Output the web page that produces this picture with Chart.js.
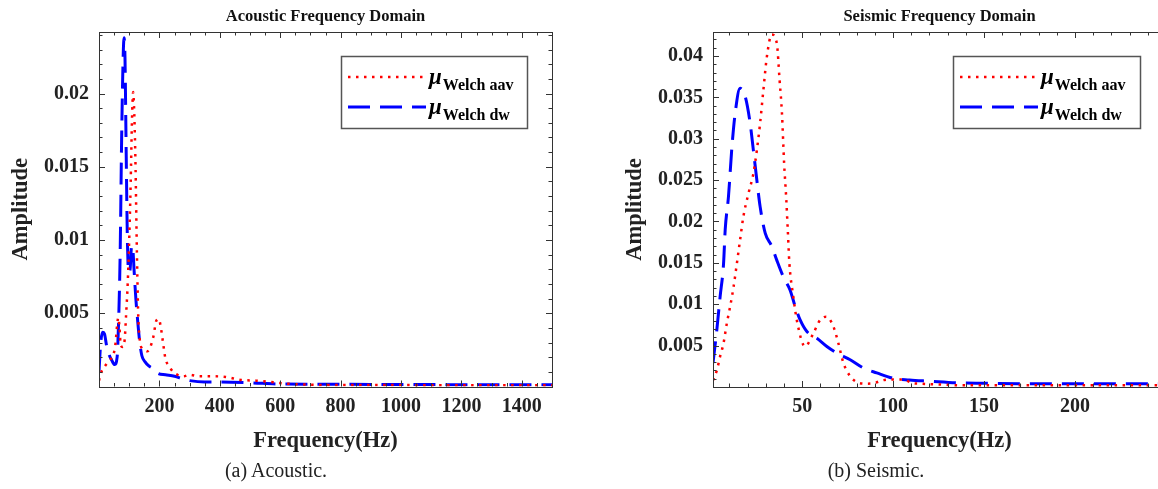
<!DOCTYPE html>
<html><head><meta charset="utf-8">
<script src="https://cdn.jsdelivr.net/npm/chart.js@4.4.1/dist/chart.umd.min.js"></script>
<style>
html,body{margin:0;padding:0;background:#fff;overflow:hidden;width:1158px;height:489px;}
#wrap{position:relative;width:1158px;height:489px;overflow:hidden;background:#fff;}
#c1{position:absolute;left:0;top:0;}
#c2{position:absolute;left:579px;top:0;}
.cap{position:absolute;top:460px;line-height:20px;font-family:"Liberation Serif",serif;font-size:20px;color:#222;transform:translateX(-50%);white-space:nowrap;}
</style></head>
<body><div id="wrap">
<canvas id="c1" width="579" height="460"></canvas>
<canvas id="c2" width="600" height="460"></canvas>
<div class="cap" style="left:276px">(a) Acoustic.</div>
<div class="cap" style="left:876px">(b) Seismic.</div>
</div>
<script>
// ---------- DATA ----------
const legendSymbol = 'μ';
const seriesSubscripts = ['Welch aav', 'Welch dw'];

// Acoustic (Hz, amplitude)
const acousticAavHz  = [0,8,20,35,48,55,60,64,68,72,78,85,90,95,100,105,109,113,117,121,124,127,130,135,142,150,160,170,180,190,198,205,212,220,232,245,260,280,300,330,370,420,470,520,570,620,700,800,900,1000,1100,1200,1300,1400,1500];
const acousticAavAmp = [0.0004,0.0010,0.0014,0.0018,0.0022,0.0030,0.0042,0.0047,0.0040,0.0028,0.0027,0.0032,0.0050,0.0070,0.0100,0.0140,0.0180,0.0201,0.0185,0.0150,0.0110,0.0075,0.0048,0.0032,0.0026,0.0025,0.0024,0.0027,0.0034,0.0045,0.0046,0.0040,0.0030,0.0019,0.0014,0.0010,0.0008,0.0007,0.0008,0.0007,0.0007,0.00065,0.00045,0.0004,0.0003,0.0002,0.00012,0.0001,0.0001,0.0001,0.00008,0.00008,0.00008,0.00008,0.00008];
const acousticDwHz   = [0,5,12,18,25,33,42,52,60,65,70,75,80,83,86,90,94,98,103,108,112,116,122,128,135,142,152,165,180,195,220,250,280,300,350,400,500,600,700,800,900,1000,1100,1200,1300,1400,1500];
const acousticDwAmp  = [0.0010,0.0028,0.0037,0.0036,0.0028,0.0022,0.0018,0.0015,0.0020,0.0045,0.0090,0.0170,0.0225,0.0238,0.0225,0.0160,0.0100,0.0078,0.0080,0.0096,0.0094,0.0080,0.0060,0.0045,0.0030,0.0021,0.0017,0.0014,0.0012,0.0009,0.0008,0.0007,0.0005,0.0004,0.0003,0.0003,0.00025,0.00017,0.00016,0.00015,0.00014,0.00013,0.00013,0.00012,0.00012,0.00012,0.00012];

// Seismic (Hz, amplitude)
const seismicAavHz  = [1,3.1,4.9,6.8,8.6,10.4,12.3,14.1,15.9,17.7,20.5,23.2,25.1,26.9,28.7,30.6,33.3,36.1,37.6,38.9,40.1,41.2,42.1,43,44.9,47.4,51.6,56.2,59.9,63.2,67.2,69.9,72.7,76.4,80,85,90,94,98,106,110,115,125,140,160,180,200,220,250];
const seismicAavAmp = [0.0008,0.0020,0.0037,0.0053,0.0077,0.0097,0.0121,0.0149,0.0178,0.0206,0.0234,0.0258,0.0286,0.0319,0.0359,0.0399,0.0426,0.0415,0.0371,0.0331,0.0270,0.0230,0.0190,0.0149,0.0113,0.0077,0.0049,0.0065,0.0081,0.0085,0.0073,0.0053,0.0029,0.0013,0.0006,0.0004,0.0005,0.0008,0.0009,0.0009,0.0005,0.0004,0.0003,0.0002,0.0002,0.0002,0.0002,0.0002,0.0002];
const seismicDwHz   = [1,3.1,4.9,6.8,7.7,9.5,11.4,13.2,15.9,18.7,21.4,23.2,25.1,26.9,29.7,33.3,36.1,39.7,43.4,46.2,48.9,52.6,58.1,63.6,69.1,76.4,83.7,91,100,109,120,135,150,175,200,225,250];
const seismicDwAmp  = [0.0029,0.0069,0.0109,0.0149,0.0190,0.0230,0.0290,0.0331,0.0361,0.0351,0.0319,0.0286,0.0250,0.0218,0.0186,0.0170,0.0153,0.0133,0.0117,0.0097,0.0081,0.0067,0.0059,0.0049,0.0041,0.0033,0.0023,0.0017,0.00105,0.00085,0.0007,0.0005,0.00045,0.0004,0.0004,0.0004,0.0004];

// tick labels
const acousticXTicks = [200,400,600,800,1000,1200,1400];
const acousticYTicks = [0.005,0.01,0.015,0.02];
const seismicXTicks  = [50,100,150,200];
const seismicYTicks  = [0.005,0.01,0.015,0.02,0.025,0.03,0.035,0.04];

// ---------- RENDER ----------
const FONT = '"Liberation Serif", "Times New Roman", serif';
Chart.defaults.font.family = FONT;
Chart.defaults.color = '#222';

const pts = (xs, ys) => xs.map((x, i) => ({x, y: ys[i]}));

const framePlugin = {
  id: 'frame',
  afterDatasetsDraw(chart, args, o) {
    const {ctx, chartArea: a} = chart;
    const xs = chart.scales.x, ys = chart.scales.y;
    ctx.save();
    ctx.strokeStyle = '#333';
    ctx.lineWidth = 1;
    const near = (v, m) => Math.abs(v / m - Math.round(v / m)) < 1e-6;
    const x0 = Math.ceil(xs.min / o.xMinor) * o.xMinor;
    for (let v = x0; v <= xs.max + 1e-9; v += o.xMinor) {
      const p = Math.round(xs.getPixelForValue(v)) + 0.5;
      const len = near(v, o.xMajor) ? 6 : 3.5;
      ctx.beginPath();
      ctx.moveTo(p, a.bottom); ctx.lineTo(p, a.bottom - len);
      ctx.moveTo(p, a.top); ctx.lineTo(p, a.top + len);
      ctx.stroke();
    }
    const y0 = Math.ceil(ys.min / o.yMinor - 1e-6) * o.yMinor;
    for (let k = 0; y0 + k * o.yMinor <= ys.max + 1e-12; k++) {
      const v = y0 + k * o.yMinor;
      const p = Math.round(ys.getPixelForValue(v)) + 0.5;
      const len = near(v, o.yMajor) ? 6 : 3.5;
      ctx.beginPath();
      ctx.moveTo(a.left, p); ctx.lineTo(a.left + len, p);
      ctx.moveTo(a.right, p); ctx.lineTo(a.right - len, p);
      ctx.stroke();
    }
    ctx.strokeRect(Math.round(a.left) + 0.5, Math.round(a.top) + 0.5,
                   Math.round(a.right - a.left), Math.round(a.bottom - a.top));
    // title
    ctx.fillStyle = '#111';
    ctx.font = 'bold 16.5px ' + FONT;
    ctx.textAlign = 'center';
    ctx.textBaseline = 'middle';
    ctx.fillText(o.title, (a.left + a.right) / 2, 17);
    // legend
    const L = o.legend;
    ctx.fillStyle = '#fff';
    ctx.fillRect(L.x, L.y, L.w, L.h);
    ctx.strokeStyle = '#555';
    ctx.lineWidth = 1.5;
    ctx.strokeRect(L.x + 0.5, L.y + 0.5, L.w, L.h);
    chart.data.datasets.forEach((ds, i) => {
      const ly = L.y + 21 + i * 30;
      ctx.save();
      ctx.strokeStyle = ds.borderColor;
      ctx.lineWidth = ds.borderWidth;
      ctx.setLineDash(ds.borderDash);
      ctx.beginPath();
      ctx.moveTo(L.x + 7, ly); ctx.lineTo(L.x + 85, ly);
      ctx.stroke();
      ctx.restore();
      ctx.fillStyle = '#000';
      ctx.textAlign = 'left';
      ctx.textBaseline = 'alphabetic';
      ctx.font = 'bold italic 23px ' + FONT;
      ctx.fillText(legendSymbol, L.x + 88, ly + 7);
      const mw = ctx.measureText(legendSymbol).width;
      ctx.font = 'bold 16px ' + FONT;
      ctx.fillText(seriesSubscripts[i], L.x + 89 + mw, ly + 13);
    });
    ctx.restore();
  }
};

function makeChart(id, cfg) {
  return new Chart(document.getElementById(id), {
    type: 'line',
    data: {
      datasets: [
        {label: legendSymbol + seriesSubscripts[0], data: pts(cfg.aavHz, cfg.aavAmp),
         borderColor: '#ff0000', borderWidth: 2.5, borderDash: [2.5, 5.5], borderCapStyle: 'butt',
         pointRadius: 0, fill: false, cubicInterpolationMode: 'monotone'},
        {label: legendSymbol + seriesSubscripts[1], data: pts(cfg.dwHz, cfg.dwAmp),
         borderColor: '#0000ff', borderWidth: 3, borderDash: [22, 10], borderCapStyle: 'butt',
         pointRadius: 0, fill: false, cubicInterpolationMode: 'monotone'}
      ]
    },
    options: {
      responsive: false,
      animation: false,
      devicePixelRatio: 1,
      layout: {padding: cfg.padding},
      plugins: {legend: {display: false}, tooltip: {enabled: false}, title: {display: false},
        frame: {title: cfg.title, xMinor: cfg.xMinor, xMajor: cfg.xMajor, yMinor: 0.001, yMajor: 0.005, legend: cfg.legend}},
      scales: {
        x: {
          type: 'linear', min: cfg.xMin, max: cfg.xMax,
          grid: {display: false, drawTicks: false, tickLength: 0},
          border: {display: false},
          ticks: {autoSkip: false, maxRotation: 0, padding: 8, font: {size: 20, weight: 'bold'}, color: '#222',
                  callback: v => String(v)},
          afterBuildTicks: s => { s.ticks = cfg.xTicks.map(v => ({value: v})); },
          afterFit: s => { s.height = cfg.xHeight; },
          title: {display: true, text: 'Frequency(Hz)', font: {size: 22.5, weight: 'bold'}, color: '#222', padding: {top: 0, bottom: 5}}
        },
        y: {
          type: 'linear', min: 0, max: cfg.yMax,
          grid: {display: false, drawTicks: false, tickLength: 0},
          border: {display: false},
          ticks: {autoSkip: false, padding: 10, font: {size: 20, weight: 'bold'}, color: '#222',
                  callback: v => String(+(+v).toFixed(3))},
          afterBuildTicks: s => { s.ticks = cfg.yTicks.map(v => ({value: v})); },
          afterFit: s => { s.width = 99; },
          title: {display: true, text: 'Amplitude', font: {size: 22.5, weight: 'bold'}, color: '#222', padding: {top: 8, bottom: 8}}
        }
      }
    },
    plugins: [framePlugin]
  });
}

makeChart('c1', {
  title: 'Acoustic Frequency Domain',
  aavHz: acousticAavHz, aavAmp: acousticAavAmp, dwHz: acousticDwHz, dwAmp: acousticDwAmp,
  xMin: 0, xMax: 1500, yMax: 0.0242, xTicks: acousticXTicks, yTicks: acousticYTicks,
  xMinor: 50, xMajor: 200, xHeight: 73.5,
  padding: {top: 32, left: 0, right: 27, bottom: 0},
  legend: {x: 341, y: 56, w: 186, h: 72}
});
makeChart('c2', {
  title: 'Seismic Frequency Domain',
  aavHz: seismicAavHz, aavAmp: seismicAavAmp, dwHz: seismicDwHz, dwAmp: seismicDwAmp,
  xMin: 1, xMax: 250, yMax: 0.0429, xTicks: seismicXTicks, yTicks: seismicYTicks,
  xMinor: 10, xMajor: 50, xHeight: 73,
  padding: {top: 32, left: 35, right: 13, bottom: 0},
  legend: {x: 374, y: 56, w: 187, h: 72}
});
</script>
</body></html>
